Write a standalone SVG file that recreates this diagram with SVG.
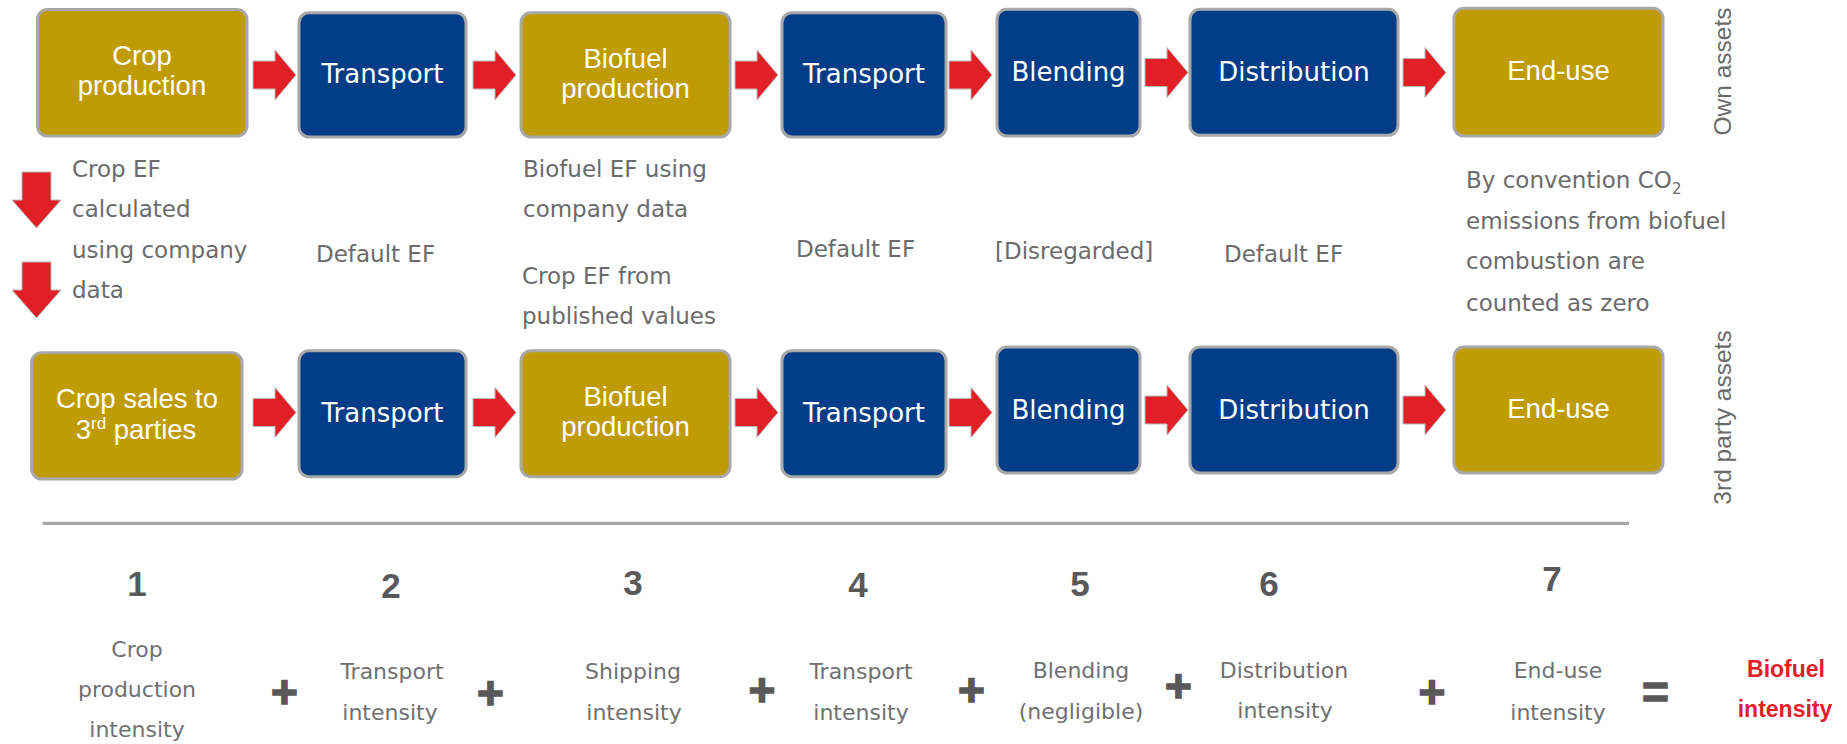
<svg xmlns="http://www.w3.org/2000/svg" xmlns:xlink="http://www.w3.org/1999/xlink" width="1847" height="744" viewBox="0 0 1847 744">
<style>
.gold{fill:#BF9B05;stroke:#A8A8A8;stroke-width:3}
.blue{fill:#033D87;stroke:#A8A8A8;stroke-width:3}
.la{font-family:"Liberation Sans",Arial,sans-serif;font-size:27.5px;fill:#FFFFFF;text-anchor:middle}
.lc{font-family:"DejaVu Sans",sans-serif;font-size:26px;fill:#FFFFFF;text-anchor:middle}
.note{font-family:"DejaVu Sans",sans-serif;font-size:23px;fill:#6B6B6B}
.side{font-family:"Liberation Sans",Arial,sans-serif;font-size:24.5px;fill:#6B6B6B;text-anchor:middle}
.num{font-family:"Liberation Sans",Arial,sans-serif;font-size:35px;font-weight:bold;fill:#595959;text-anchor:middle}
.bl{font-family:"DejaVu Sans",sans-serif;font-size:22px;fill:#707070;text-anchor:middle}
.op{font-family:"Liberation Sans",Arial,sans-serif;font-size:46px;font-weight:bold;fill:#595959;stroke:#595959;stroke-width:1.5;text-anchor:middle}
.res{font-family:"Liberation Sans",Arial,sans-serif;font-size:23px;font-weight:bold;fill:#E0202A;text-anchor:middle}
.arr{fill:#E11F26;stroke:#B8B8B8;stroke-width:1}
</style>
<defs>
<path id="ra" d="M0,-14 H22 V-25 L43,0 L22,25 V14 H0 Z"/>
<path id="da" d="M-14.5,0 H14.5 V28 H24.5 L0,56 L-24.5,28 H-14.5 Z"/>
</defs>

<g id="connectors">
<use xlink:href="#ra" href="#ra" class="arr" x="253" y="75"/>
<use xlink:href="#ra" href="#ra" class="arr" x="473" y="75"/>
<use xlink:href="#ra" href="#ra" class="arr" x="735" y="75"/>
<use xlink:href="#ra" href="#ra" class="arr" x="949" y="75"/>
<use xlink:href="#ra" href="#ra" class="arr" x="1145" y="72.5"/>
<use xlink:href="#ra" href="#ra" class="arr" x="1403" y="72.5"/>
<use xlink:href="#ra" href="#ra" class="arr" x="253" y="412.5"/>
<use xlink:href="#ra" href="#ra" class="arr" x="473" y="412.5"/>
<use xlink:href="#ra" href="#ra" class="arr" x="735" y="412.5"/>
<use xlink:href="#ra" href="#ra" class="arr" x="949" y="412.5"/>
<use xlink:href="#ra" href="#ra" class="arr" x="1145" y="410"/>
<use xlink:href="#ra" href="#ra" class="arr" x="1403" y="410"/>
<use xlink:href="#da" href="#da" class="arr" x="36.5" y="172"/>
<use xlink:href="#da" href="#da" class="arr" x="36.5" y="262"/>
</g>

<g id="crop-production">
<rect class="gold" x="37.5" y="9.5" width="209.5" height="126.5" rx="10"/>
<text class="la" x="142" y="65">Crop</text>
<text class="la" x="142" y="95">production</text>
</g>
<g id="transport-1">
<rect class="blue" x="299" y="12.7" width="167" height="124.3" rx="10"/>
<text class="lc" x="382.5" y="83">Transport</text>
</g>
<g id="biofuel-production-1">
<rect class="gold" x="521" y="12.7" width="209" height="124.3" rx="10"/>
<text class="la" x="625.5" y="68">Biofuel</text>
<text class="la" x="625.5" y="98">production</text>
</g>
<g id="transport-2">
<rect class="blue" x="782" y="12.7" width="164" height="124.3" rx="10"/>
<text class="lc" x="864" y="83">Transport</text>
</g>
<g id="blending-1">
<rect class="blue" x="997" y="9.3" width="143" height="126.7" rx="10"/>
<text class="lc" x="1068.5" y="81">Blending</text>
</g>
<g id="distribution-1">
<rect class="blue" x="1190" y="9.3" width="208" height="126" rx="10"/>
<text class="lc" x="1294" y="81">Distribution</text>
</g>
<g id="end-use-1">
<rect class="gold" x="1454" y="8.3" width="209" height="127.7" rx="10"/>
<text class="la" x="1558.5" y="80">End-use</text>
</g>

<g id="crop-sales">
<rect class="gold" x="31.6" y="352.7" width="210.4" height="126.3" rx="10"/>
<text class="la" x="137" y="408">Crop sales to</text>
<text class="la" x="136" y="439">3<tspan font-size="17" dy="-10">rd</tspan><tspan dy="10"> parties</tspan></text>
</g>
<g id="transport-3">
<rect class="blue" x="299" y="350.7" width="167" height="126" rx="10"/>
<text class="lc" x="382.5" y="422">Transport</text>
</g>
<g id="biofuel-production-2">
<rect class="gold" x="521" y="350.7" width="209" height="126" rx="10"/>
<text class="la" x="625.5" y="406">Biofuel</text>
<text class="la" x="625.5" y="436">production</text>
</g>
<g id="transport-4">
<rect class="blue" x="782" y="350.7" width="164" height="126" rx="10"/>
<text class="lc" x="864" y="422">Transport</text>
</g>
<g id="blending-2">
<rect class="blue" x="997" y="347" width="143" height="126" rx="10"/>
<text class="lc" x="1068.5" y="419">Blending</text>
</g>
<g id="distribution-2">
<rect class="blue" x="1190" y="347" width="208" height="126" rx="10"/>
<text class="lc" x="1294" y="419">Distribution</text>
</g>
<g id="end-use-2">
<rect class="gold" x="1454" y="347" width="209" height="126" rx="10"/>
<text class="la" x="1558.5" y="418">End-use</text>
</g>

<g id="notes">
<text class="note" x="72" y="177">Crop EF</text>
<text class="note" x="72" y="217">calculated</text>
<text class="note" x="72" y="258">using company</text>
<text class="note" x="72" y="298">data</text>
<text class="note" x="316" y="262">Default EF</text>
<text class="note" x="523" y="177">Biofuel EF using</text>
<text class="note" x="523" y="217">company data</text>
<text class="note" x="522" y="284">Crop EF from</text>
<text class="note" x="522" y="324">published values</text>
<text class="note" x="796" y="257">Default EF</text>
<text class="note" x="995" y="259">[Disregarded]</text>
<text class="note" x="1224" y="262">Default EF</text>
<text class="note" x="1466" y="188">By convention CO<tspan font-size="15" dy="6">2</tspan></text>
<text class="note" x="1466" y="229">emissions from biofuel</text>
<text class="note" x="1466" y="269">combustion are</text>
<text class="note" x="1466" y="311">counted as zero</text>
</g>

<g id="side-labels">
<text class="side" transform="translate(1731,71.5) rotate(-90)">Own assets</text>
<text class="side" transform="translate(1731,417.5) rotate(-90)">3rd party assets</text>
</g>

<line id="divider" x1="42.7" y1="523.3" x2="1629" y2="523.3" stroke="#A6A6A6" stroke-width="3.3"/>

<g id="equation">
<text class="num" x="137" y="596">1</text>
<text class="num" x="391" y="598">2</text>
<text class="num" x="633" y="595">3</text>
<text class="num" x="858" y="597">4</text>
<text class="num" x="1080" y="596">5</text>
<text class="num" x="1269" y="596">6</text>
<text class="num" x="1552" y="591">7</text>

<text class="bl" x="137" y="657">Crop</text>
<text class="bl" x="137" y="697">production</text>
<text class="bl" x="137" y="737">intensity</text>
<text class="bl" x="392" y="679">Transport</text>
<text class="bl" x="390" y="720">intensity</text>
<text class="bl" x="633" y="679">Shipping</text>
<text class="bl" x="634" y="720">intensity</text>
<text class="bl" x="861" y="679">Transport</text>
<text class="bl" x="861" y="720">intensity</text>
<text class="bl" x="1081" y="678">Blending</text>
<text class="bl" x="1081" y="719">(negligible)</text>
<text class="bl" x="1284" y="678">Distribution</text>
<text class="bl" x="1285" y="718">intensity</text>
<text class="bl" x="1558" y="678">End-use</text>
<text class="bl" x="1558" y="720">intensity</text>

<text class="op" x="284.5" y="708">+</text>
<text class="op" x="490.5" y="709">+</text>
<text class="op" x="762" y="706">+</text>
<text class="op" x="971.5" y="706">+</text>
<text class="op" x="1178.5" y="702">+</text>
<text class="op" x="1432" y="708">+</text>
<text class="op" x="1655.5" y="708">=</text>

<text class="res" x="1786" y="677">Biofuel</text>
<text class="res" x="1785" y="717">intensity</text>
</g>
</svg>
